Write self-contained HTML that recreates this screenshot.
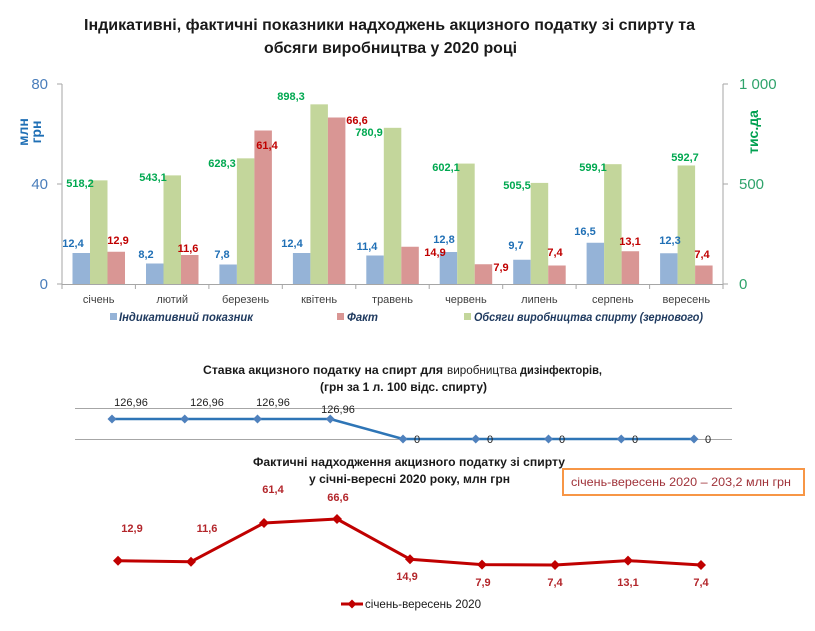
<!DOCTYPE html>
<html>
<head>
<meta charset="utf-8">
<style>
  html,body{margin:0;padding:0;background:#fff;}
  svg{display:block;}
  text{font-family:"Liberation Sans","DejaVu Sans",sans-serif;}
</style>
</head>
<body>
<svg width="815" height="631" viewBox="0 0 815 631" xmlns="http://www.w3.org/2000/svg">
  <rect x="0" y="0" width="815" height="631" fill="#ffffff"/>

  <!-- Main title -->
  <text x="84" y="30" font-size="16" font-weight="bold" fill="#1a1a1a" textLength="611" lengthAdjust="spacingAndGlyphs">Індикативні,  фактичні  показники  надходжень  акцизного  податку  зі спирту та</text>
  <text x="264" y="53" font-size="16" font-weight="bold" fill="#1a1a1a" textLength="253" lengthAdjust="spacingAndGlyphs">обсяги виробництва  у 2020 році</text>

  <!-- Axes -->
  <g stroke="#a6a6a6" stroke-width="1" fill="none">
    <line x1="62" y1="84" x2="62" y2="284"/>
    <line x1="57" y1="84" x2="62" y2="84"/>
    <line x1="57" y1="184" x2="62" y2="184"/>
    <line x1="57" y1="284" x2="62" y2="284"/>
    <line x1="723" y1="84" x2="723" y2="284"/>
    <line x1="723" y1="84" x2="728" y2="84"/>
    <line x1="723" y1="184" x2="728" y2="184"/>
    <line x1="723" y1="284" x2="728" y2="284"/>
    <line x1="62" y1="284.5" x2="723" y2="284.5"/>
    <line x1="62" y1="284" x2="62" y2="289"/>
    <line x1="135.4" y1="284" x2="135.4" y2="289"/>
    <line x1="208.9" y1="284" x2="208.9" y2="289"/>
    <line x1="282.3" y1="284" x2="282.3" y2="289"/>
    <line x1="355.8" y1="284" x2="355.8" y2="289"/>
    <line x1="429.2" y1="284" x2="429.2" y2="289"/>
    <line x1="502.7" y1="284" x2="502.7" y2="289"/>
    <line x1="576.1" y1="284" x2="576.1" y2="289"/>
    <line x1="649.6" y1="284" x2="649.6" y2="289"/>
    <line x1="723" y1="284" x2="723" y2="289"/>
  </g>

  <!-- Left tick labels -->
  <g font-size="15" fill="#4a7ebb" text-anchor="end">
    <text x="48" y="89">80</text>
    <text x="48" y="189">40</text>
    <text x="48" y="289">0</text>
  </g>
  <!-- Right tick labels -->
  <g font-size="15" fill="#2fa36b">
    <text x="739" y="89">1 000</text>
    <text x="739" y="189">500</text>
    <text x="739" y="289">0</text>
  </g>

  <!-- Axis titles -->
  <text transform="translate(28,132) rotate(-90)" text-anchor="middle" font-size="14" font-weight="bold" fill="#1f6fb5">млн</text>
  <text transform="translate(41,132) rotate(-90)" text-anchor="middle" font-size="14" font-weight="bold" fill="#1f6fb5">грн</text>
  <text transform="translate(758,132) rotate(-90)" text-anchor="middle" font-size="14" font-weight="bold" fill="#00a050">тис.да</text>

  <!-- Bars: blue (indicative) -->
  <g fill="#95b3d7">
    <rect x="72.5" y="253" width="17.5" height="31"/>
    <rect x="146.0" y="263.5" width="17.5" height="20.5"/>
    <rect x="219.4" y="264.5" width="17.5" height="19.5"/>
    <rect x="292.9" y="253" width="17.5" height="31"/>
    <rect x="366.3" y="255.5" width="17.5" height="28.5"/>
    <rect x="439.7" y="252" width="17.5" height="32"/>
    <rect x="513.2" y="259.75" width="17.5" height="24.25"/>
    <rect x="586.6" y="242.75" width="17.5" height="41.25"/>
    <rect x="660.1" y="253.25" width="17.5" height="30.75"/>
  </g>
  <!-- Bars: green (production) -->
  <g fill="#c3d69b">
    <rect x="90.0" y="180.36" width="17.5" height="103.64"/>
    <rect x="163.5" y="175.38" width="17.5" height="108.62"/>
    <rect x="236.9" y="158.34" width="17.5" height="125.66"/>
    <rect x="310.4" y="104.34" width="17.5" height="179.66"/>
    <rect x="383.8" y="127.82" width="17.5" height="156.18"/>
    <rect x="457.2" y="163.58" width="17.5" height="120.42"/>
    <rect x="530.7" y="182.9" width="17.5" height="101.1"/>
    <rect x="604.1" y="164.18" width="17.5" height="119.82"/>
    <rect x="677.6" y="165.46" width="17.5" height="118.54"/>
  </g>
  <!-- Bars: red (fact) -->
  <g fill="#d99694">
    <rect x="107.5" y="251.75" width="17.5" height="32.25"/>
    <rect x="181.0" y="255" width="17.5" height="29"/>
    <rect x="254.4" y="130.5" width="17.5" height="153.5"/>
    <rect x="327.9" y="117.5" width="17.5" height="166.5"/>
    <rect x="401.3" y="246.75" width="17.5" height="37.25"/>
    <rect x="474.7" y="264.25" width="17.5" height="19.75"/>
    <rect x="548.2" y="265.5" width="17.5" height="18.5"/>
    <rect x="621.6" y="251.25" width="17.5" height="32.75"/>
    <rect x="695.1" y="265.5" width="17.5" height="18.5"/>
  </g>

  <!-- Data labels blue -->
  <g font-size="11" font-weight="bold" fill="#1f6fb5" text-anchor="middle">
    <text x="73" y="247">12,4</text>
    <text x="146" y="258">8,2</text>
    <text x="222" y="258">7,8</text>
    <text x="292" y="247">12,4</text>
    <text x="367" y="250">11,4</text>
    <text x="444" y="243">12,8</text>
    <text x="516" y="249">9,7</text>
    <text x="585" y="235">16,5</text>
    <text x="670" y="244">12,3</text>
  </g>
  <!-- Data labels green -->
  <g font-size="11" font-weight="bold" fill="#00a850" text-anchor="middle">
    <text x="80" y="187">518,2</text>
    <text x="153" y="181">543,1</text>
    <text x="222" y="167">628,3</text>
    <text x="291" y="100">898,3</text>
    <text x="369" y="136">780,9</text>
    <text x="446" y="171">602,1</text>
    <text x="517" y="189">505,5</text>
    <text x="593" y="171">599,1</text>
    <text x="685" y="161">592,7</text>
  </g>
  <!-- Data labels red -->
  <g font-size="11" font-weight="bold" fill="#c00000" text-anchor="middle">
    <text x="118" y="244">12,9</text>
    <text x="188" y="252">11,6</text>
    <text x="267" y="149">61,4</text>
    <text x="357" y="124">66,6</text>
    <text x="435" y="256">14,9</text>
    <text x="501" y="271">7,9</text>
    <text x="555" y="256">7,4</text>
    <text x="630" y="245">13,1</text>
    <text x="702" y="258">7,4</text>
  </g>

  <!-- Month labels -->
  <g font-size="11" fill="#404040" text-anchor="middle">
    <text x="98.7" y="303">січень</text>
    <text x="172.2" y="303">лютий</text>
    <text x="245.6" y="303">березень</text>
    <text x="319.1" y="303">квітень</text>
    <text x="392.5" y="303">травень</text>
    <text x="465.9" y="303">червень</text>
    <text x="539.4" y="303">липень</text>
    <text x="612.8" y="303">серпень</text>
    <text x="686.3" y="303">вересень</text>
  </g>

  <!-- Legend top -->
  <rect x="110" y="313" width="7" height="7" fill="#95b3d7"/>
  <text x="119" y="321" font-size="12" font-weight="bold" font-style="italic" fill="#1f3a5f" textLength="134" lengthAdjust="spacingAndGlyphs">Індикативний показник</text>
  <rect x="337" y="313" width="7" height="7" fill="#d99694"/>
  <text x="347" y="321" font-size="12" font-weight="bold" font-style="italic" fill="#1f3a5f" textLength="31" lengthAdjust="spacingAndGlyphs">Факт</text>
  <rect x="464" y="313" width="7" height="7" fill="#c3d69b"/>
  <text x="474" y="321" font-size="12" font-weight="bold" font-style="italic" fill="#1f3a5f" textLength="229" lengthAdjust="spacingAndGlyphs">Обсяги виробництва спирту (зернового)</text>

  <!-- Rate chart title -->
  <text x="203" y="374" font-size="12" font-weight="bold" fill="#1a1a1a" textLength="240" lengthAdjust="spacingAndGlyphs">Ставка акцизного податку на спирт для</text>
  <text x="447" y="374" font-size="12" fill="#1a1a1a" textLength="70" lengthAdjust="spacingAndGlyphs">виробництва</text>
  <text x="520" y="374" font-size="12" font-weight="bold" fill="#1a1a1a" textLength="82" lengthAdjust="spacingAndGlyphs">дизінфекторів,</text>
  <text x="320" y="391" font-size="12" font-weight="bold" fill="#1a1a1a" textLength="167" lengthAdjust="spacingAndGlyphs">(грн за 1 л. 100 відс. спирту)</text>

  <!-- Rate chart grid -->
  <line x1="75" y1="408.5" x2="732" y2="408.5" stroke="#a6a6a6" stroke-width="1"/>
  <line x1="75" y1="439.5" x2="732" y2="439.5" stroke="#a6a6a6" stroke-width="1"/>

  <!-- Rate line -->
  <polyline points="112,419 184.75,419 257.5,419 330.25,419 403,439 475.75,439 548.5,439 621.25,439 694,439" fill="none" stroke="#2e75b6" stroke-width="2.5" stroke-linejoin="round"/>
  <g fill="#4f81bd">
    <polygon points="112,414.5 116.5,419 112,423.5 107.5,419"/>
    <polygon points="184.75,414.5 189.25,419 184.75,423.5 180.25,419"/>
    <polygon points="257.5,414.5 262,419 257.5,423.5 253,419"/>
    <polygon points="330.25,414.5 334.75,419 330.25,423.5 325.75,419"/>
    <polygon points="403,434.5 407.5,439 403,443.5 398.5,439"/>
    <polygon points="475.75,434.5 480.25,439 475.75,443.5 471.25,439"/>
    <polygon points="548.5,434.5 553,439 548.5,443.5 544,439"/>
    <polygon points="621.25,434.5 625.75,439 621.25,443.5 616.75,439"/>
    <polygon points="694,434.5 698.5,439 694,443.5 689.5,439"/>
  </g>
  <g font-size="11" fill="#222" text-anchor="middle">
    <text x="131" y="406">126,96</text>
    <text x="207" y="406">126,96</text>
    <text x="273" y="406">126,96</text>
    <text x="338" y="413">126,96</text>
    <text x="417" y="443">0</text>
    <text x="490" y="443">0</text>
    <text x="562" y="443">0</text>
    <text x="635" y="443">0</text>
    <text x="708" y="443">0</text>
  </g>

  <!-- Fact chart title -->
  <text x="253" y="466" font-size="12" font-weight="bold" fill="#1a1a1a" textLength="312" lengthAdjust="spacingAndGlyphs">Фактичні надходження акцизного податку зі спирту</text>
  <text x="309" y="483" font-size="12" font-weight="bold" fill="#1a1a1a" textLength="201" lengthAdjust="spacingAndGlyphs">у січні-вересні 2020 року, млн грн</text>

  <!-- Summary box -->
  <rect x="563" y="469" width="241" height="26" fill="#ffffff" stroke="#f79646" stroke-width="2"/>
  <text x="571" y="486" font-size="12" fill="#a0333a" textLength="220" lengthAdjust="spacingAndGlyphs">січень-вересень 2020 – 203,2 млн грн</text>

  <!-- Fact line -->
  <polyline points="118,560.7 191,561.7 264,523 337,519 410,559.2 482,564.6 555,565 628,560.6 701,565" fill="none" stroke="#c00000" stroke-width="3" stroke-linejoin="round"/>
  <g fill="#c00000">
    <polygon points="118,555.7 123,560.7 118,565.7 113,560.7"/>
    <polygon points="191,556.7 196,561.7 191,566.7 186,561.7"/>
    <polygon points="264,518 269,523 264,528 259,523"/>
    <polygon points="337,514 342,519 337,524 332,519"/>
    <polygon points="410,554.2 415,559.2 410,564.2 405,559.2"/>
    <polygon points="482,559.6 487,564.6 482,569.6 477,564.6"/>
    <polygon points="555,560 560,565 555,570 550,565"/>
    <polygon points="628,555.6 633,560.6 628,565.6 623,560.6"/>
    <polygon points="701,560 706,565 701,570 696,565"/>
  </g>
  <g font-size="11" font-weight="bold" fill="#b3262b" text-anchor="middle">
    <text x="132" y="532">12,9</text>
    <text x="207" y="532">11,6</text>
    <text x="273" y="493">61,4</text>
    <text x="338" y="501">66,6</text>
    <text x="407" y="580">14,9</text>
    <text x="483" y="586">7,9</text>
    <text x="555" y="586">7,4</text>
    <text x="628" y="586">13,1</text>
    <text x="701" y="586">7,4</text>
  </g>

  <!-- Bottom legend -->
  <line x1="341" y1="604" x2="363" y2="604" stroke="#c00000" stroke-width="3"/>
  <polygon points="352,599.5 356.5,604 352,608.5 347.5,604" fill="#c00000"/>
  <text x="365" y="608" font-size="12" fill="#1a1a1a" textLength="116" lengthAdjust="spacingAndGlyphs">січень-вересень 2020</text>
</svg>
</body>
</html>
